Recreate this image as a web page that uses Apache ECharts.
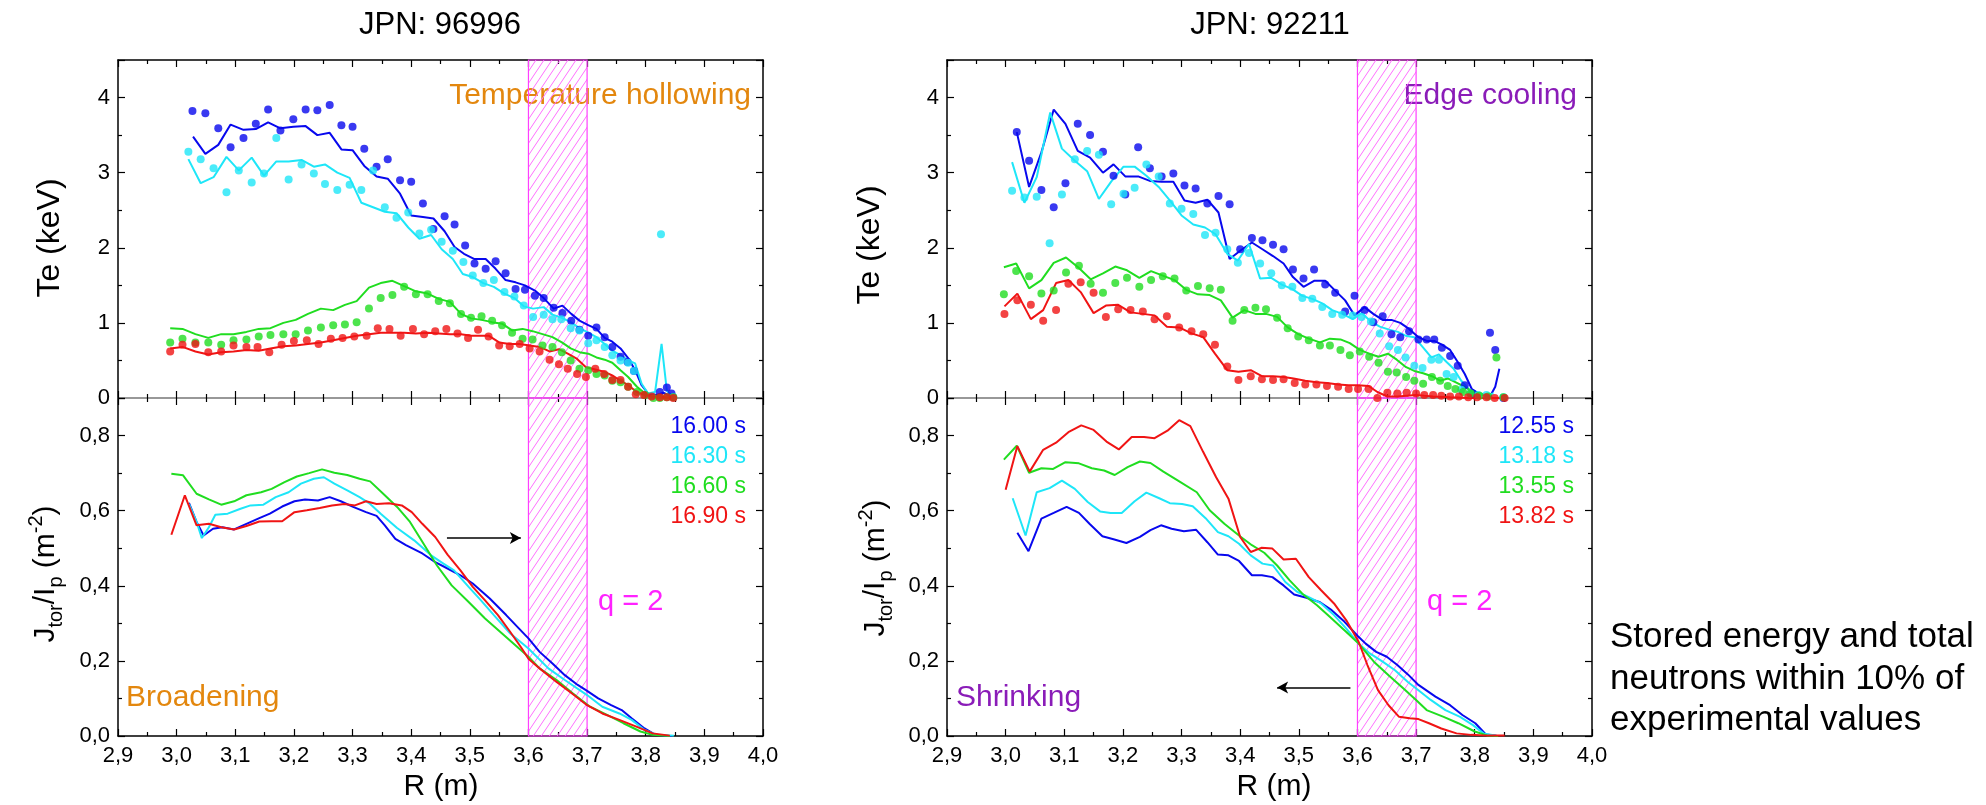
<!DOCTYPE html>
<html><head><meta charset="utf-8">
<script src="https://cdn.jsdelivr.net/npm/echarts@6.0.0/dist/echarts.min.js"></script>
<style>html,body{margin:0;padding:0;background:#fff}#c{width:1986px;height:805px}</style>
</head><body><div id="c"></div>
<script>
// ---------------- axis / label data ----------------
const xMin = 2.9, xMax = 4.0, xStep = 0.1;
const teMax = 4.5, teStep = 1;
const jMax = 0.9, jStep = 0.2;
const qBand = [3.6, 3.7];
const titles = ['JPN: 96996', 'JPN: 92211'];
const timesLeft = ['16.00 s', '16.30 s', '16.60 s', '16.90 s'];
const timesRight = ['12.55 s', '13.18 s', '13.55 s', '13.82 s'];
const notesTop = ['Temperature hollowing', 'Edge cooling'];
const notesBottom = ['Broadening', 'Shrinking'];
const sideNote = ['Stored energy and total', 'neutrons within 10% of', 'experimental values'];
const arrowLeft = [[3.461, 0.527], [3.587, 0.527]];
const arrowRight = [[3.588, 0.129], [3.463, 0.129]];

// ---------------- JPN 96996 : Te experimental (dots) ----------------
const te96_exp_1600 = [[3.027,3.82],[3.049,3.79],[3.071,3.59],[3.092,3.34],[3.114,3.46],[3.135,3.65],[3.156,3.84],[3.177,3.56],[3.199,3.71],[3.22,3.84],[3.24,3.83],[3.261,3.90],[3.281,3.63],[3.30,3.61],[3.32,3.32],[3.341,3.08],[3.36,3.18],[3.381,2.90],[3.40,2.88],[3.42,2.59],[3.438,2.25],[3.457,2.42],[3.474,2.31],[3.492,2.03],[3.508,1.79],[3.527,1.72],[3.544,1.82],[3.561,1.66],[3.578,1.45],[3.594,1.44],[3.611,1.36],[3.626,1.33],[3.643,1.20],[3.658,1.13],[3.673,1.03],[3.687,0.91],[3.702,0.83],[3.716,0.94],[3.73,0.81],[3.743,0.68],[3.757,0.55],[3.769,0.48],[3.78,0.36],[3.824,0.08],[3.836,0.14],[3.844,0.06]];
const te96_exp_1630 = [[3.02,3.28],[3.041,3.18],[3.063,3.06],[3.085,2.74],[3.106,3.03],[3.128,2.87],[3.149,2.99],[3.17,3.46],[3.191,2.91],[3.213,3.11],[3.234,2.99],[3.253,2.85],[3.274,2.77],[3.295,2.84],[3.315,2.77],[3.335,3.03],[3.355,2.54],[3.375,2.40],[3.395,2.47],[3.414,2.19],[3.434,2.24],[3.452,2.08],[3.471,1.96],[3.489,1.81],[3.505,1.63],[3.523,1.53],[3.541,1.57],[3.559,1.41],[3.576,1.35],[3.592,1.23],[3.608,1.08],[3.626,1.11],[3.641,1.05],[3.656,1.05],[3.672,0.93],[3.687,0.90],[3.702,0.73],[3.716,0.77],[3.73,0.68],[3.743,0.57],[3.757,0.50],[3.77,0.47],[3.78,0.36],[3.826,2.18],[3.847,0.01]];
const te96_exp_1660 = [[2.989,0.74],[3.01,0.79],[3.032,0.74],[3.054,0.74],[3.076,0.71],[3.097,0.77],[3.119,0.78],[3.14,0.82],[3.16,0.84],[3.182,0.85],[3.203,0.85],[3.224,0.90],[3.246,0.94],[3.267,0.97],[3.287,0.98],[3.307,1.01],[3.328,1.19],[3.348,1.33],[3.368,1.37],[3.388,1.48],[3.408,1.38],[3.428,1.38],[3.447,1.29],[3.466,1.26],[3.485,1.12],[3.502,1.07],[3.52,1.09],[3.538,1.03],[3.555,0.97],[3.572,0.87],[3.59,0.79],[3.607,0.78],[3.624,0.70],[3.641,0.68],[3.657,0.61],[3.672,0.50],[3.687,0.39],[3.702,0.37],[3.716,0.32],[3.73,0.30],[3.743,0.23],[3.757,0.21],[3.77,0.15],[3.785,0.08],[3.799,0.04],[3.813,0.00],[3.824,0.00],[3.836,0.01],[3.847,0.01]];
const te96_exp_1690 = [[2.989,0.62],[3.01,0.71],[3.032,0.72],[3.054,0.61],[3.076,0.62],[3.097,0.70],[3.119,0.68],[3.138,0.68],[3.158,0.61],[3.179,0.71],[3.2,0.76],[3.222,0.77],[3.242,0.72],[3.263,0.79],[3.283,0.80],[3.303,0.82],[3.324,0.83],[3.343,0.93],[3.363,0.92],[3.382,0.83],[3.403,0.92],[3.422,0.85],[3.441,0.89],[3.46,0.92],[3.479,0.86],[3.497,0.80],[3.514,0.91],[3.532,0.82],[3.55,0.70],[3.568,0.69],[3.585,0.72],[3.602,0.66],[3.619,0.62],[3.636,0.51],[3.652,0.45],[3.667,0.39],[3.683,0.32],[3.698,0.28],[3.714,0.39],[3.729,0.32],[3.743,0.24],[3.757,0.24],[3.77,0.15],[3.783,0.05],[3.797,0.04],[3.81,0.02],[3.824,0.01],[3.836,0.01],[3.847,0.00]];

// ---------------- JPN 96996 : Te simulated (lines) ----------------
const te96_sim_1600 = [[3.028,3.48],[3.049,3.25],[3.071,3.37],[3.092,3.64],[3.114,3.57],[3.135,3.58],[3.156,3.67],[3.177,3.59],[3.199,3.61],[3.22,3.62],[3.24,3.50],[3.261,3.53],[3.281,3.31],[3.30,3.30],[3.32,3.09],[3.341,2.95],[3.36,2.92],[3.381,2.72],[3.40,2.43],[3.42,2.41],[3.438,2.39],[3.457,2.22],[3.474,2.01],[3.49,1.92],[3.508,1.85],[3.527,1.85],[3.544,1.72],[3.561,1.57],[3.578,1.54],[3.594,1.50],[3.611,1.43],[3.626,1.33],[3.643,1.19],[3.658,1.23],[3.673,1.12],[3.687,1.03],[3.702,0.97],[3.716,0.92],[3.73,0.80],[3.743,0.75],[3.757,0.66],[3.771,0.52],[3.782,0.37],[3.793,0.17],[3.804,0.06],[3.819,0.04],[3.83,0.07],[3.838,0.04],[3.847,0.01]];
const te96_sim_1630 = [[3.02,3.18],[3.041,2.86],[3.063,2.94],[3.085,3.21],[3.106,3.03],[3.128,3.20],[3.149,2.96],[3.17,3.15],[3.191,3.15],[3.213,3.17],[3.234,3.08],[3.253,3.11],[3.274,3.00],[3.295,2.93],[3.315,2.60],[3.335,2.54],[3.355,2.48],[3.375,2.46],[3.395,2.27],[3.414,2.12],[3.434,2.17],[3.452,1.98],[3.471,1.85],[3.488,1.65],[3.505,1.61],[3.523,1.53],[3.541,1.48],[3.559,1.39],[3.576,1.33],[3.592,1.22],[3.608,1.19],[3.626,1.21],[3.641,1.11],[3.656,1.07],[3.672,1.01],[3.687,0.93],[3.702,0.87],[3.716,0.81],[3.73,0.72],[3.743,0.63],[3.757,0.57],[3.77,0.50],[3.782,0.46],[3.793,0.19],[3.804,0.06],[3.816,0.08],[3.827,0.72],[3.836,0.10],[3.847,0.01]];
const te96_sim_1660 = [[2.989,0.93],[3.01,0.92],[3.032,0.85],[3.054,0.80],[3.076,0.85],[3.097,0.85],[3.119,0.88],[3.14,0.92],[3.16,0.93],[3.182,1.00],[3.203,1.04],[3.224,1.12],[3.246,1.19],[3.267,1.17],[3.287,1.24],[3.307,1.29],[3.328,1.47],[3.348,1.53],[3.368,1.56],[3.388,1.49],[3.408,1.42],[3.428,1.39],[3.447,1.32],[3.466,1.28],[3.485,1.12],[3.502,1.06],[3.52,1.04],[3.538,1.01],[3.555,0.99],[3.572,0.90],[3.59,0.92],[3.607,0.89],[3.624,0.85],[3.641,0.81],[3.657,0.74],[3.672,0.66],[3.687,0.61],[3.702,0.59],[3.716,0.54],[3.73,0.51],[3.743,0.47],[3.757,0.37],[3.77,0.28],[3.785,0.15],[3.799,0.06],[3.813,0.01],[3.836,0.00],[3.847,0.00]];
const te96_sim_1690 = [[2.989,0.66],[3.01,0.68],[3.032,0.62],[3.054,0.58],[3.076,0.61],[3.097,0.62],[3.119,0.64],[3.14,0.63],[3.16,0.66],[3.182,0.69],[3.203,0.70],[3.224,0.72],[3.246,0.74],[3.267,0.77],[3.287,0.80],[3.307,0.83],[3.328,0.85],[3.348,0.87],[3.368,0.87],[3.388,0.87],[3.408,0.86],[3.428,0.87],[3.447,0.86],[3.466,0.85],[3.485,0.85],[3.502,0.83],[3.514,0.83],[3.532,0.83],[3.55,0.74],[3.568,0.72],[3.585,0.72],[3.602,0.70],[3.619,0.68],[3.636,0.62],[3.652,0.65],[3.667,0.59],[3.683,0.52],[3.698,0.41],[3.714,0.38],[3.729,0.35],[3.743,0.30],[3.757,0.23],[3.77,0.17],[3.785,0.08],[3.799,0.04],[3.813,0.02],[3.836,0.01],[3.847,0.00]];

// ---------------- JPN 92211 : Te experimental (dots) ----------------
const te92_exp_1255 = [[3.019,3.54],[3.04,3.16],[3.061,2.77],[3.082,2.54],[3.102,2.86],[3.123,3.65],[3.144,3.50],[3.166,3.28],[3.184,2.96],[3.204,2.71],[3.226,3.34],[3.246,3.06],[3.266,2.95],[3.286,2.99],[3.305,2.83],[3.324,2.79],[3.344,2.59],[3.363,2.69],[3.382,2.58],[3.40,1.98],[3.42,2.13],[3.438,2.10],[3.456,2.04],[3.474,1.98],[3.49,1.71],[3.508,1.59],[3.526,1.71],[3.545,1.51],[3.562,1.40],[3.579,1.15],[3.595,1.36],[3.612,1.17],[3.627,1.01],[3.643,1.09],[3.658,0.85],[3.673,0.81],[3.688,0.89],[3.704,0.78],[3.718,0.78],[3.731,0.78],[3.744,0.67],[3.758,0.56],[3.771,0.43],[3.783,0.17],[3.796,0.06],[3.826,0.87],[3.835,0.64],[3.849,0.00]];
const te92_exp_1318 = [[3.011,2.76],[3.032,2.67],[3.053,2.68],[3.075,2.06],[3.096,2.71],[3.118,3.18],[3.139,3.29],[3.159,3.24],[3.18,2.58],[3.201,2.72],[3.22,2.80],[3.24,3.11],[3.261,2.95],[3.28,2.59],[3.30,2.52],[3.32,2.45],[3.34,2.17],[3.358,2.20],[3.378,1.98],[3.396,1.80],[3.415,1.93],[3.434,1.79],[3.453,1.66],[3.471,1.50],[3.489,1.48],[3.506,1.33],[3.523,1.32],[3.54,1.21],[3.557,1.12],[3.574,1.11],[3.592,1.10],[3.607,1.08],[3.623,1.02],[3.638,0.86],[3.654,0.69],[3.669,0.64],[3.682,0.54],[3.697,0.43],[3.711,0.40],[3.726,0.51],[3.739,0.51],[3.752,0.32],[3.764,0.28],[3.777,0.11],[3.792,0.06],[3.806,0.04],[3.82,0.04],[3.849,0.01]];
const te92_exp_1355 = [[2.997,1.38],[3.018,1.69],[3.04,1.62],[3.061,1.39],[3.082,1.43],[3.103,1.67],[3.125,1.76],[3.145,1.52],[3.166,1.40],[3.187,1.53],[3.207,1.60],[3.228,1.48],[3.248,1.57],[3.268,1.62],[3.288,1.59],[3.308,1.43],[3.328,1.49],[3.348,1.46],[3.367,1.44],[3.387,1.03],[3.407,1.17],[3.426,1.20],[3.444,1.18],[3.463,1.07],[3.481,0.93],[3.499,0.82],[3.517,0.77],[3.536,0.70],[3.553,0.70],[3.571,0.64],[3.587,0.57],[3.604,0.62],[3.62,0.55],[3.636,0.47],[3.652,0.35],[3.667,0.34],[3.683,0.28],[3.697,0.23],[3.712,0.19],[3.727,0.28],[3.741,0.23],[3.754,0.16],[3.767,0.12],[3.78,0.08],[3.793,0.06],[3.808,0.03],[3.823,0.02],[3.837,0.54],[3.849,0.01]];
const te92_exp_1382 = [[2.998,1.12],[3.02,1.30],[3.043,1.24],[3.064,1.03],[3.086,1.17],[3.107,1.52],[3.128,1.54],[3.15,1.40],[3.171,1.08],[3.192,1.18],[3.213,1.17],[3.234,1.15],[3.254,1.05],[3.275,1.09],[3.296,0.94],[3.317,0.89],[3.337,0.85],[3.357,0.71],[3.378,0.42],[3.397,0.24],[3.418,0.29],[3.437,0.25],[3.456,0.24],[3.474,0.25],[3.493,0.20],[3.511,0.18],[3.53,0.18],[3.548,0.16],[3.567,0.15],[3.585,0.12],[3.601,0.12],[3.619,0.12],[3.634,0.00],[3.651,0.07],[3.668,0.06],[3.684,0.07],[3.70,0.06],[3.714,0.04],[3.729,0.04],[3.743,0.03],[3.758,0.02],[3.773,0.02],[3.789,0.01],[3.804,0.01],[3.82,0.01],[3.834,0.00],[3.851,0.00]];

// ---------------- JPN 92211 : Te simulated (lines) ----------------
const te92_sim_1255 = [[3.019,3.54],[3.04,2.81],[3.061,3.27],[3.082,3.84],[3.102,3.65],[3.123,3.29],[3.144,3.20],[3.166,3.00],[3.184,3.11],[3.204,2.95],[3.226,2.95],[3.246,2.89],[3.266,2.88],[3.286,2.88],[3.305,2.63],[3.324,2.60],[3.344,2.64],[3.363,2.47],[3.382,1.85],[3.40,1.96],[3.42,2.07],[3.438,1.98],[3.456,1.89],[3.474,1.79],[3.49,1.61],[3.508,1.48],[3.526,1.56],[3.545,1.56],[3.562,1.43],[3.579,1.30],[3.595,1.10],[3.612,1.21],[3.627,1.12],[3.643,1.04],[3.658,1.04],[3.673,1.00],[3.688,0.92],[3.704,0.81],[3.718,0.76],[3.731,0.76],[3.744,0.71],[3.758,0.64],[3.771,0.48],[3.783,0.32],[3.795,0.12],[3.809,0.05],[3.826,0.02],[3.835,0.15],[3.842,0.39]];
const te92_sim_1318 = [[3.011,3.14],[3.032,2.60],[3.053,2.94],[3.076,3.80],[3.096,3.32],[3.118,3.16],[3.139,3.02],[3.159,2.65],[3.18,2.88],[3.201,3.08],[3.22,3.08],[3.24,2.96],[3.261,2.81],[3.28,2.63],[3.30,2.43],[3.32,2.31],[3.34,2.27],[3.358,2.18],[3.378,1.92],[3.396,1.83],[3.415,2.05],[3.434,1.59],[3.453,1.60],[3.471,1.51],[3.489,1.45],[3.506,1.36],[3.523,1.32],[3.54,1.26],[3.557,1.17],[3.574,1.12],[3.592,1.05],[3.607,1.13],[3.623,1.02],[3.638,0.95],[3.654,0.91],[3.669,0.88],[3.682,0.83],[3.697,0.81],[3.711,0.68],[3.726,0.54],[3.739,0.58],[3.752,0.48],[3.764,0.39],[3.777,0.23],[3.792,0.10],[3.806,0.05],[3.82,0.04],[3.832,0.06]];
const te92_sim_1355 = [[2.997,1.74],[3.018,1.79],[3.04,1.46],[3.061,1.57],[3.082,1.80],[3.103,1.87],[3.125,1.73],[3.145,1.58],[3.166,1.66],[3.187,1.75],[3.207,1.70],[3.228,1.60],[3.248,1.69],[3.268,1.63],[3.288,1.57],[3.308,1.44],[3.328,1.38],[3.348,1.37],[3.367,1.30],[3.387,1.07],[3.407,1.17],[3.426,1.12],[3.444,1.12],[3.463,1.08],[3.481,0.94],[3.499,0.85],[3.517,0.79],[3.536,0.74],[3.553,0.79],[3.571,0.78],[3.587,0.73],[3.604,0.64],[3.62,0.59],[3.636,0.55],[3.652,0.59],[3.667,0.51],[3.683,0.41],[3.697,0.36],[3.712,0.33],[3.727,0.29],[3.741,0.23],[3.754,0.26],[3.767,0.21],[3.78,0.16],[3.793,0.10],[3.808,0.05],[3.823,0.04]];
const te92_sim_1382 = [[2.998,1.22],[3.02,1.39],[3.043,1.05],[3.064,1.17],[3.086,1.53],[3.107,1.57],[3.128,1.41],[3.15,1.13],[3.171,1.23],[3.192,1.24],[3.213,1.14],[3.234,1.12],[3.254,1.10],[3.275,0.95],[3.296,0.94],[3.317,0.86],[3.337,0.81],[3.357,0.59],[3.378,0.37],[3.397,0.35],[3.418,0.37],[3.437,0.29],[3.456,0.29],[3.474,0.28],[3.491,0.26],[3.511,0.23],[3.53,0.21],[3.548,0.20],[3.567,0.18],[3.585,0.17],[3.601,0.17],[3.619,0.16],[3.634,0.08],[3.651,0.02],[3.668,0.02],[3.684,0.03],[3.70,0.04],[3.714,0.03],[3.729,0.02],[3.758,0.01],[3.792,0.00],[3.851,0.00]];

// ---------------- JPN 96996 : Jtor/Ip ----------------
const j96_1600 = [[3.021,0.621],[3.034,0.57],[3.046,0.534],[3.062,0.552],[3.078,0.556],[3.098,0.55],[3.119,0.565],[3.141,0.58],[3.159,0.592],[3.18,0.611],[3.201,0.625],[3.219,0.63],[3.241,0.627],[3.261,0.636],[3.28,0.625],[3.301,0.61],[3.323,0.596],[3.341,0.586],[3.355,0.561],[3.373,0.525],[3.391,0.508],[3.419,0.486],[3.441,0.463],[3.462,0.446],[3.484,0.428],[3.505,0.406],[3.534,0.366],[3.562,0.322],[3.584,0.286],[3.6,0.26],[3.619,0.224],[3.641,0.193],[3.662,0.162],[3.684,0.136],[3.7,0.12],[3.719,0.10],[3.741,0.082],[3.759,0.069],[3.776,0.047],[3.798,0.02],[3.816,0.004],[3.83,0.001],[3.844,0.0]];
const j96_1630 = [[3.021,0.618],[3.034,0.57],[3.043,0.527],[3.055,0.556],[3.066,0.589],[3.087,0.592],[3.109,0.605],[3.126,0.614],[3.148,0.616],[3.169,0.636],[3.191,0.649],[3.212,0.672],[3.234,0.685],[3.251,0.689],[3.269,0.672],[3.291,0.654],[3.312,0.636],[3.33,0.618],[3.348,0.592],[3.376,0.554],[3.405,0.521],[3.434,0.481],[3.455,0.459],[3.473,0.441],[3.498,0.397],[3.519,0.361],[3.541,0.322],[3.569,0.273],[3.6,0.233],[3.634,0.18],[3.662,0.149],[3.7,0.109],[3.726,0.078],[3.755,0.06],[3.776,0.043],[3.798,0.016],[3.819,0.003],[3.848,0.001]];
const j96_1660 = [[2.991,0.698],[3.011,0.694],[3.034,0.645],[3.055,0.63],[3.076,0.616],[3.098,0.625],[3.119,0.641],[3.144,0.649],[3.162,0.658],[3.184,0.676],[3.205,0.691],[3.226,0.70],[3.248,0.71],[3.269,0.701],[3.291,0.695],[3.312,0.685],[3.33,0.678],[3.355,0.641],[3.376,0.61],[3.398,0.57],[3.419,0.517],[3.444,0.454],[3.469,0.401],[3.498,0.357],[3.526,0.313],[3.555,0.273],[3.584,0.233],[3.6,0.211],[3.619,0.18],[3.648,0.149],[3.676,0.113],[3.705,0.078],[3.734,0.056],[3.762,0.034],[3.791,0.012],[3.812,0.003],[3.841,0.0]];
const j96_1690 = [[2.991,0.536],[3.014,0.641],[3.034,0.561],[3.055,0.565],[3.076,0.556],[3.098,0.55],[3.119,0.559],[3.141,0.571],[3.162,0.572],[3.18,0.572],[3.201,0.596],[3.222,0.601],[3.244,0.607],[3.265,0.614],[3.286,0.618],[3.304,0.614],[3.323,0.625],[3.341,0.618],[3.362,0.62],[3.384,0.614],[3.401,0.596],[3.419,0.565],[3.441,0.53],[3.462,0.483],[3.484,0.441],[3.505,0.397],[3.526,0.361],[3.548,0.322],[3.569,0.277],[3.587,0.237],[3.6,0.206],[3.619,0.18],[3.648,0.144],[3.676,0.111],[3.7,0.082],[3.726,0.06],[3.755,0.043],[3.784,0.025],[3.812,0.007],[3.841,0.001]];

// ---------------- JPN 92211 : Jtor/Ip ----------------
const j92_1255 = [[3.02,0.541],[3.039,0.492],[3.061,0.579],[3.082,0.594],[3.104,0.61],[3.125,0.594],[3.143,0.565],[3.165,0.532],[3.184,0.524],[3.206,0.514],[3.229,0.53],[3.247,0.548],[3.265,0.561],[3.283,0.552],[3.304,0.545],[3.325,0.549],[3.344,0.516],[3.362,0.483],[3.38,0.481],[3.398,0.466],[3.42,0.428],[3.437,0.428],[3.455,0.423],[3.474,0.401],[3.492,0.377],[3.513,0.368],[3.535,0.357],[3.556,0.335],[3.578,0.304],[3.6,0.267],[3.614,0.246],[3.632,0.224],[3.65,0.211],[3.668,0.189],[3.686,0.164],[3.704,0.136],[3.733,0.105],[3.758,0.082],[3.779,0.056],[3.801,0.034],[3.819,0.004],[3.837,0.001]];
const j92_1318 = [[3.012,0.633],[3.034,0.534],[3.053,0.649],[3.075,0.66],[3.096,0.68],[3.118,0.658],[3.14,0.623],[3.161,0.598],[3.179,0.594],[3.198,0.594],[3.22,0.625],[3.24,0.648],[3.262,0.633],[3.28,0.62],[3.301,0.618],[3.319,0.612],[3.341,0.58],[3.362,0.543],[3.38,0.532],[3.398,0.512],[3.418,0.481],[3.438,0.459],[3.456,0.454],[3.477,0.41],[3.497,0.384],[3.517,0.37],[3.538,0.353],[3.56,0.322],[3.581,0.286],[3.602,0.246],[3.621,0.22],[3.643,0.198],[3.664,0.175],[3.686,0.144],[3.704,0.122],[3.725,0.096],[3.75,0.069],[3.775,0.051],[3.797,0.029],[3.815,0.007],[3.837,0.001]];
const j92_1355 = [[2.997,0.736],[3.019,0.773],[3.04,0.701],[3.061,0.713],[3.081,0.711],[3.102,0.729],[3.125,0.726],[3.147,0.713],[3.168,0.707],[3.186,0.695],[3.208,0.716],[3.229,0.731],[3.247,0.727],[3.269,0.704],[3.294,0.68],[3.326,0.649],[3.348,0.601],[3.373,0.565],[3.398,0.534],[3.42,0.508],[3.441,0.488],[3.463,0.454],[3.484,0.415],[3.506,0.379],[3.531,0.348],[3.556,0.313],[3.581,0.277],[3.602,0.246],[3.628,0.198],[3.653,0.162],[3.678,0.127],[3.7,0.096],[3.718,0.069],[3.747,0.051],[3.772,0.034],[3.8,0.012],[3.822,0.001],[3.84,0.0]];
const j92_1382 = [[3.0,0.656],[3.02,0.772],[3.041,0.704],[3.064,0.762],[3.086,0.781],[3.107,0.809],[3.129,0.827],[3.15,0.815],[3.172,0.784],[3.193,0.763],[3.215,0.796],[3.236,0.796],[3.254,0.793],[3.276,0.813],[3.296,0.841],[3.315,0.825],[3.337,0.756],[3.359,0.689],[3.38,0.632],[3.4,0.53],[3.418,0.49],[3.436,0.501],[3.455,0.499],[3.474,0.47],[3.495,0.472],[3.517,0.423],[3.538,0.388],[3.56,0.353],[3.581,0.308],[3.602,0.251],[3.617,0.189],[3.635,0.122],[3.653,0.082],[3.671,0.051],[3.689,0.047],[3.704,0.045],[3.722,0.034],[3.743,0.02],[3.769,0.007],[3.794,0.003],[3.822,0.001],[3.851,0.001]];

// ---------------- styling / layout ----------------
const FONT = "'Liberation Sans', Arial, Helvetica, sans-serif";
const COLORS = ['#0808ee', '#1ee6f8', '#20dd20', '#f01414'];
const ORANGE = '#e3870e', PURPLE = '#8a1cb8', MAGENTA = '#ff22ff';
const grids = [
  {left: 118, top: 60, width: 645, height: 338},   // top-left  (Te 96996)
  {left: 118, top: 398, width: 645, height: 338},  // bottom-left (J 96996)
  {left: 947, top: 60, width: 645, height: 338},   // top-right (Te 92211)
  {left: 947, top: 398, width: 645, height: 338}   // bottom-right (J 92211)
];
const comma = v => v.toFixed(1).replace('.', ',');

// hatch pattern
const hatch = document.createElement('canvas');
hatch.width = 8; hatch.height = 12;
(function () {
  const c = hatch.getContext('2d');
  c.strokeStyle = '#ff70ff'; c.lineWidth = 1;
  c.beginPath();
  c.moveTo(-1, 13.5); c.lineTo(9, -1.5);
  c.moveTo(-9, 13.5); c.lineTo(1, -1.5);
  c.moveTo(7, 13.5); c.lineTo(17, -1.5);
  c.stroke();
})();

const tickCommon = {show: true, inside: true, length: 7, lineStyle: {color: '#000', width: 1.2}};
const minorCommon = {show: true, splitNumber: 2, length: 4, lineStyle: {color: '#000', width: 1.2}};

function mkX(gi, pos, showLabel, lineShow, lineColor) {
  return {
    type: 'value', gridIndex: gi, position: pos, min: xMin, max: xMax, interval: xStep,
    axisLine: {show: lineShow, onZero: false, lineStyle: {color: lineColor, width: 1.5}},
    axisTick: tickCommon, minorTick: minorCommon,
    axisLabel: {show: showLabel, formatter: comma, fontFamily: FONT, fontSize: 22, color: '#000', margin: 9},
    splitLine: {show: false}, minorSplitLine: {show: false}
  };
}
function mkY(gi, pos, max, interval, showLabel, fmt) {
  return {
    type: 'value', gridIndex: gi, position: pos, min: 0, max: max, interval: interval,
    axisLine: {show: true, onZero: false, lineStyle: {color: '#000', width: 1.5}},
    axisTick: tickCommon, minorTick: minorCommon,
    axisLabel: {show: showLabel, formatter: fmt, showMaxLabel: false, fontFamily: FONT, fontSize: 22, color: '#000', margin: 8},
    splitLine: {show: false}, minorSplitLine: {show: false}
  };
}
const teFmt = v => String(Math.round(v));

const xAxes = [
  mkX(0, 'bottom', false, true, '#777'),
  mkX(1, 'bottom', true, true, '#000'),
  mkX(2, 'bottom', false, true, '#777'),
  mkX(3, 'bottom', true, true, '#000'),
  mkX(0, 'top', false, true, '#000'),
  mkX(1, 'top', false, false, '#777'),
  mkX(2, 'top', false, true, '#000'),
  mkX(3, 'top', false, false, '#777')
];
const yAxes = [
  mkY(0, 'left', teMax, teStep, true, teFmt),
  mkY(1, 'left', jMax, jStep, true, comma),
  mkY(2, 'left', teMax, teStep, true, teFmt),
  mkY(3, 'left', jMax, jStep, true, comma),
  mkY(0, 'right', teMax, teStep, false, teFmt),
  mkY(1, 'right', jMax, jStep, false, comma),
  mkY(2, 'right', teMax, teStep, false, teFmt),
  mkY(3, 'right', jMax, jStep, false, comma)
];

function dots(data, gi, color) {
  return {type: 'scatter', xAxisIndex: gi, yAxisIndex: gi, data: data, symbol: 'circle', symbolSize: 8,
    itemStyle: {color: color}, z: 4, silent: true, animation: false};
}
function line(data, gi, color, w) {
  return {type: 'line', xAxisIndex: gi, yAxisIndex: gi, data: data, showSymbol: false, symbol: 'none',
    lineStyle: {color: color, width: w}, z: 3, silent: true, animation: false, clip: true};
}
function band(gi, yMax, arrow) {
  const s = {
    type: 'line', xAxisIndex: gi, yAxisIndex: gi, data: [[qBand[0], 0]], showSymbol: false, symbol: 'none',
    lineStyle: {opacity: 0}, z: 1, silent: true, animation: false,
    markArea: {silent: true, itemStyle: {color: {image: hatch, repeat: 'repeat'}, borderColor: '#ff40ff', borderWidth: 1.2},
      data: [[{coord: [qBand[0], 0]}, {coord: [qBand[1], yMax]}]]}
  };
  if (arrow) {
    s.markLine = {silent: true, animation: false, symbol: ['none', 'arrow'], symbolSize: [9, 11],
      label: {show: false}, lineStyle: {color: '#000', width: 1.6, type: 'solid'},
      data: [[{coord: arrow[0]}, {coord: arrow[1]}]]};
  }
  return s;
}

const series = [
  band(0, teMax), band(1, jMax, arrowLeft), band(2, teMax), band(3, jMax, arrowRight),
  line(te96_sim_1600, 0, COLORS[0], 2), line(te96_sim_1630, 0, COLORS[1], 2),
  line(te96_sim_1660, 0, COLORS[2], 2), line(te96_sim_1690, 0, COLORS[3], 2),
  dots(te96_exp_1600, 0, COLORS[0]), dots(te96_exp_1630, 0, COLORS[1]),
  dots(te96_exp_1660, 0, COLORS[2]), dots(te96_exp_1690, 0, COLORS[3]),
  line(te92_sim_1255, 2, COLORS[0], 2), line(te92_sim_1318, 2, COLORS[1], 2),
  line(te92_sim_1355, 2, COLORS[2], 2), line(te92_sim_1382, 2, COLORS[3], 2),
  dots(te92_exp_1255, 2, COLORS[0]), dots(te92_exp_1318, 2, COLORS[1]),
  dots(te92_exp_1355, 2, COLORS[2]), dots(te92_exp_1382, 2, COLORS[3]),
  line(j96_1600, 1, COLORS[0], 2), line(j96_1630, 1, COLORS[1], 2),
  line(j96_1660, 1, COLORS[2], 2), line(j96_1690, 1, COLORS[3], 2),
  line(j92_1255, 3, COLORS[0], 2), line(j92_1318, 3, COLORS[1], 2),
  line(j92_1355, 3, COLORS[2], 2), line(j92_1382, 3, COLORS[3], 2)
];

// ---------------- text graphics ----------------
function txt(text, x, y, size, color, align, extra) {
  return Object.assign({type: 'text', x: x, y: y, silent: true,
    style: {text: text, font: size + 'px ' + FONT, fill: color, align: align || 'center', verticalAlign: 'middle'}}, extra || {});
}
const jRich = {
  a: {fontSize: 30, fontFamily: FONT, lineHeight: 40, verticalAlign: 'middle', fill: '#000'},
  s: {fontSize: 20, fontFamily: FONT, lineHeight: 20, verticalAlign: 'bottom', fill: '#000'},
  u: {fontSize: 20, fontFamily: FONT, lineHeight: 20, verticalAlign: 'top', fill: '#000'}
};
function jLabel(x, y) {
  return {type: 'text', x: x, y: y, rotation: Math.PI / 2, silent: true,
    style: {text: '{a|J}{s|tor}{a|/I}{s|p}{a| (m}{u|-2}{a|)}', rich: jRich, align: 'center', verticalAlign: 'middle'}};
}
const graphics = [
  txt(titles[0], 440, 25, 31, '#000'),
  txt(titles[1], 1270, 25, 31, '#000'),
  txt('Te (keV)', 50, 238, 32, '#000', 'center', {rotation: Math.PI / 2}),
  txt('Te (keV)', 870, 245, 32, '#000', 'center', {rotation: Math.PI / 2}),
  jLabel(46, 574), jLabel(876, 568),
  txt('R (m)', 441, 787, 30, '#000'),
  txt('R (m)', 1274, 787, 30, '#000'),
  txt(notesTop[0], 751, 96, 30, ORANGE, 'right'),
  txt(notesTop[1], 1577, 96, 30, PURPLE, 'right'),
  txt(notesBottom[0], 126, 698, 30, ORANGE, 'left'),
  txt(notesBottom[1], 956, 698, 30, PURPLE, 'left'),
  txt('q = 2', 598, 602, 29, MAGENTA, 'left'),
  txt('q = 2', 1427, 602, 29, MAGENTA, 'left')
];
[427, 457, 487, 517].forEach((y, i) => {
  graphics.push(txt(timesLeft[i], 746, y, 23, COLORS[i], 'right'));
  graphics.push(txt(timesRight[i], 1574, y, 23, COLORS[i], 'right'));
});
sideNote.forEach((t, i) => graphics.push(txt(t, 1610, 637.5 + i * 41.5, 35, '#000', 'left')));

const chart = echarts.init(document.getElementById('c'), null, {renderer: 'canvas'});
chart.setOption({
  animation: false,
  backgroundColor: '#fff',
  grid: grids,
  xAxis: xAxes,
  yAxis: yAxes,
  series: series,
  graphic: graphics
});
</script></body></html>
